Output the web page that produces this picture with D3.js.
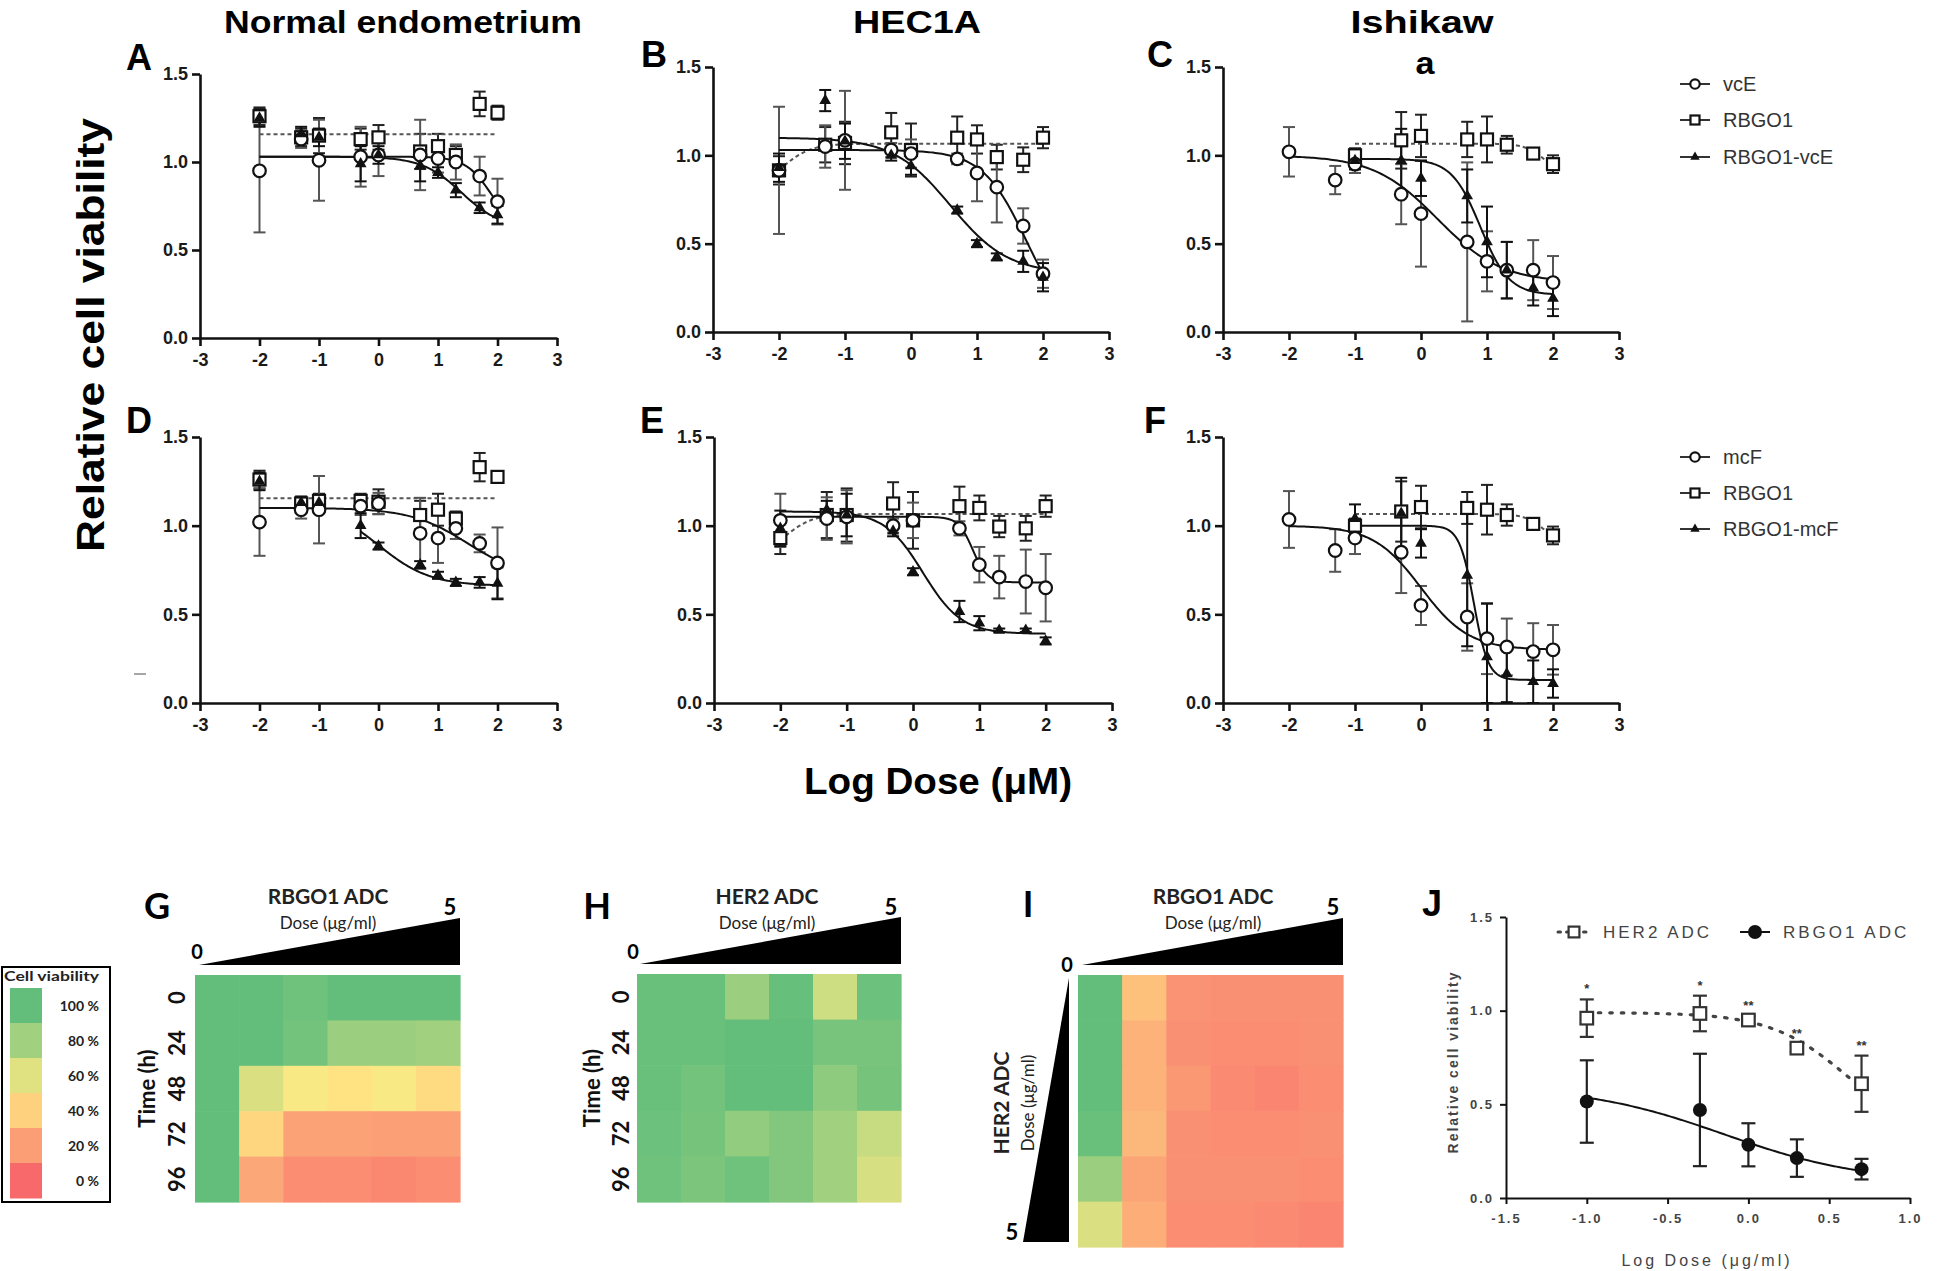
<!DOCTYPE html>
<html><head><meta charset="utf-8">
<script src="https://cdn.jsdelivr.net/npm/d3@7"></script>
<style>
body{margin:0;background:#fff}
svg{display:block}
text{font-family:"Liberation Sans",Arial,sans-serif}
.hm text{font-family:Lato,"Liberation Sans",sans-serif}
</style>
</head><body>
<svg id="c" width="1946" height="1271"></svg>
<script>
// ---------- DATA ----------
const doseLog = [-2, -1.3, -1, -0.3, 0, 0.7, 1, 1.3, 1.7, 2];
const xTicks = [-3, -2, -1, 0, 1, 2, 3];
const yTicks = [0, 0.5, 1, 1.5];
const titles = ["Normal endometrium", "HEC1A", "Ishikaw", "a"];
const legendTop = ["vcE", "RBGO1", "RBGO1-vcE"];
const legendBottom = ["mcF", "RBGO1", "RBGO1-mcF"];

// Panel A (Normal endometrium, vcE)
const aVcE      = [0.95, 1.13, 1.01, 1.03, 1.04, 1.04, 1.02, 1.00, 0.92, 0.775];
const aVcEErr   = [0.35, 0.05, 0.23, 0.17, 0.12, 0.20, 0.08, 0.10, 0.11, 0.13];
const aRb       = [1.26, 1.14, 1.15, 1.13, 1.14, 1.06, 1.09, 1.04, 1.33, 1.28];
const aRbErr    = [0.05, 0.05, 0.10, 0.06, 0.07, 0.10, 0.07, 0.05, 0.07, 0.04];
const aCombo    = [1.25, 1.16, 1.14, 0.99, 1.04, 0.98, 0.94, 0.84, 0.74, 0.70];
const aComboErr = [0.05, 0.04, 0.05, 0.10, 0.05, 0.09, 0.03, 0.04, 0.03, 0.05];
// fit params: [top, bottom, logEC50, hill, xFrom, xTo]
const aFitVcE   = [1.03, 0.60, 1.9, 2.0, -2, 2];
const aFitRb    = [1.158, 1.158, 0, 0, -2, 2];
const aFitCombo = [1.03, 0.62, 1.4, 1.3, -2, 2];

// Panel B (HEC1A, vcE)
const bVcE      = [0.915, 1.05, 1.085, 1.03, 1.01, 0.98, 0.90, 0.82, 0.60, 0.33];
const bVcEErr   = [0.36, 0.12, 0.28, 0.04, 0.08, 0.03, 0.16, 0.20, 0.10, 0.08];
const bRb       = [0.915, 1.06, 1.07, 1.13, 1.03, 1.10, 1.09, 0.99, 0.975, 1.10];
const bRbErr    = [0.08, 0.10, 0.12, 0.11, 0.15, 0.12, 0.08, 0.07, 0.07, 0.06];
const bCombo    = [0.93, 1.31, 1.08, 1.00, 0.94, 0.69, 0.50, 0.425, 0.40, 0.31];
const bComboErr = [0.08, 0.06, 0.10, 0.03, 0.05, 0.02, 0.02, 0.02, 0.06, 0.08];
const bFitVcE   = [1.03, 0.0, 1.75, 1.3, -2, 2];
const bFitRb    = [0.80, 1.066, -1.95, 2.0, -2, 2];
const bFitCombo = [1.10, 0.33, 0.6, 1.0, -2, 2];

// Panel C (Ishikawa, vcE)
const cVcE      = [1.02, 0.86, 0.95, 0.78, 0.67, 0.51, 0.40, 0.35, 0.35, 0.28];
const cVcEErr   = [0.14, 0.08, 0.05, 0.17, 0.30, 0.45, 0.17, 0.16, 0.17, 0.15];
const cRb       = [null, null, 1.00, 1.085, 1.11, 1.09, 1.09, 1.06, 1.01, 0.95];
const cRbErr    = [null, null, 0.04, 0.16, 0.12, 0.10, 0.13, 0.05, 0.03, 0.05];
const cCombo    = [null, null, 0.97, 0.97, 0.87, 0.77, 0.51, 0.35, 0.25, 0.19];
const cComboErr = [null, null, 0.05, 0.18, 0.10, 0.15, 0.20, 0.16, 0.10, 0.10];
const cFitVcE   = [1.0, 0.28, 0.25, 0.9, -2, 2];
const cFitRb    = [1.066, 0.90, 1.85, 3.0, -1, 2];
const cFitCombo = [0.98, 0.21, 0.9, 2.0, -1, 2];

// Panel D (Normal endometrium, mcF)
const dMcF      = [1.02, 1.09, 1.09, 1.11, 1.125, 0.957, 0.93, 0.985, 0.90, 0.79];
const dMcFErr   = [0.19, 0.05, 0.19, 0.05, 0.06, 0.20, 0.14, 0.06, 0.05, 0.20];
const dRb       = [1.26, 1.125, 1.14, 1.14, 1.135, 1.06, 1.09, 1.04, 1.33, 1.275];
const dRbErr    = [0.05, 0.04, 0.04, 0.04, 0.07, 0.08, 0.09, 0.04, 0.08, 0.03];
const dCombo    = [1.25, 1.13, 1.13, 1.00, 0.885, 0.78, 0.72, 0.68, 0.68, 0.675];
const dComboErr = [0.05, 0.03, 0.03, 0.07, 0.02, 0.02, 0.02, 0.02, 0.03, 0.09];
const dFitMcF   = [1.10, 0.70, 1.5, 0.9, -2, 2];
const dFitRb    = [1.154, 1.154, 0, 0, -2, 2];
const dFitCombo = [1.12, 0.66, 0.0, 1.0, -0.3, 2];

// Panel E (HEC1A, mcF)
const eMcF      = [1.03, 1.04, 1.05, 1.00, 1.03, 0.985, 0.78, 0.71, 0.685, 0.65];
const eMcFErr   = [0.15, 0.12, 0.15, 0.04, 0.10, 0.04, 0.10, 0.12, 0.18, 0.19];
const eRb       = [0.93, 1.06, 1.06, 1.125, 1.03, 1.11, 1.10, 0.995, 0.985, 1.11];
const eRbErr    = [0.09, 0.13, 0.15, 0.12, 0.16, 0.11, 0.07, 0.06, 0.07, 0.06];
const eCombo    = [0.985, 1.09, 1.06, 0.97, 0.74, 0.516, 0.45, 0.41, 0.41, 0.35];
const eComboErr = [0.10, 0.05, 0.12, 0.03, 0.02, 0.06, 0.04, 0.01, 0.01, 0.02];
const eFitMcF   = [1.05, 0.68, 0.9, 4.0, -2, 2];
const eFitRb    = [0.80, 1.066, -1.95, 2.0, -2, 2];
const eFitCombo = [1.08, 0.39, 0.15, 1.5, -2, 2];

// Panel F (Ishikawa, mcF)
const fMcF      = [1.035, 0.86, 0.93, 0.85, 0.55, 0.485, 0.363, 0.316, 0.29, 0.30];
const fMcFErr   = [0.16, 0.12, 0.09, 0.23, 0.11, 0.19, 0.20, 0.16, 0.16, 0.14];
const fRb       = [null, null, 1.00, 1.08, 1.105, 1.10, 1.09, 1.06, 1.01, 0.945];
const fRbErr    = [null, null, 0.04, 0.17, 0.12, 0.09, 0.14, 0.06, 0.03, 0.05];
const fCombo    = [null, null, 1.04, 1.07, 0.90, 0.72, 0.26, 0.165, 0.12, 0.11];
const fComboErr = [null, null, 0.08, 0.20, 0.08, 0.40, 0.30, 0.16, 0.12, 0.08];
const fFitMcF   = [1.0, 0.30, 0.0, 1.2, -2, 2];
const fFitRb    = [1.066, 0.90, 1.85, 3.0, -1, 2];
const fFitCombo = [1.0, 0.13, 0.8, 4.0, -1, 2];

// Heatmaps (cell viability, %)
const timeLabels = ["0", "24", "48", "72", "96"];
const gViab = [
  [100, 100, 96, 100, 100, 100],
  [100, 100, 95, 82, 82, 80],
  [100, 62, 52, 47, 52, 44],
  [100, 42, 22, 22, 21, 21],
  [100, 24, 14, 14, 12, 14]
];
const hViab = [
  [98, 98, 82, 99, 66, 97],
  [98, 98, 100, 100, 93, 93],
  [98, 95, 100, 100, 86, 94],
  [97, 94, 85, 90, 80, 68],
  [96, 92, 96, 90, 80, 63]
];
const iViab = [
  [100, 34, 16, 15, 15, 15],
  [100, 28, 15, 14, 14, 15],
  [100, 28, 18, 13, 11, 14],
  [98, 30, 15, 14, 14, 15],
  [82, 23, 15, 15, 15, 14],
  [62, 26, 14, 14, 13, 11]
];
const legendPct = [100, 80, 60, 40, 20, 0];

// Panel J
const jDoseLog   = [-1, -0.3, 0, 0.3, 0.7];
const jHer2      = [0.96, 0.985, 0.95, 0.80, 0.61];
const jHer2Err   = [0.10, 0.095, 0.02, 0.02, 0.15];
const jRbgo      = [0.515, 0.47, 0.284, 0.213, 0.154];
const jRbgoErr   = [0.22, 0.30, 0.115, 0.10, 0.055];
const jStars     = ["*", "*", "**", "**", "**"];
const jFitHer2   = [0.99, 0.30, 0.62, 1.8, -1, 0.7];
const jFitRbgo   = [0.60, 0.08, -0.15, 1.0, -1, 0.7];
const jXTicks    = [-1.5, -1, -0.5, 0, 0.5, 1];
const jYTicks    = [0, 0.5, 1, 1.5];
const jLegend    = ["HER2 ADC", "RBGO1 ADC"];

// ---------- DRAWING ----------
const svg = d3.select("#c");
svg.append("rect").attr("width", 1946).attr("height", 1271).attr("fill", "#fff");

const fitFn = p => x => p[1] + (p[0] - p[1]) / (1 + Math.pow(10, (x - p[2]) * p[3]));
const fitXs = p => d3.range(0, 121).map(i => p[4] + (p[5] - p[4]) * i / 120);

function marker(g, kind, cx, cy, s) {
  s = s || 1;
  if (kind === "circle") {
    g.append("circle").attr("cx", cx).attr("cy", cy).attr("r", 6.3 * s)
      .attr("fill", "#fff").attr("stroke", "#111").attr("stroke-width", 2.2);
  } else if (kind === "square") {
    const w = 12 * s;
    g.append("rect").attr("x", cx - w / 2).attr("y", cy - w / 2).attr("width", w).attr("height", w)
      .attr("fill", "#fff").attr("stroke", "#111").attr("stroke-width", 2.2);
  } else if (kind === "tri") {
    g.append("path").attr("transform", `translate(${cx},${cy})`)
      .attr("d", d3.symbol(d3.symbolTriangle, 60 * s * s)()).attr("fill", "#111");
  } else if (kind === "dot") {
    g.append("circle").attr("cx", cx).attr("cy", cy).attr("r", 7 * s).attr("fill", "#111");
  } else if (kind === "gsquare") {
    const w = 12 * s;
    g.append("rect").attr("x", cx - w / 2).attr("y", cy - w / 2).attr("width", w).attr("height", w)
      .attr("fill", "#fff").attr("stroke", "#333").attr("stroke-width", 2.2);
  }
}

function styleAxis(ax, fs, weight, color, sw) {
  ax.select(".domain").attr("stroke", "#111").attr("stroke-width", sw);
  ax.selectAll(".tick line").attr("stroke", "#111").attr("stroke-width", sw);
  ax.selectAll(".tick text").attr("font-size", fs).attr("font-weight", weight).attr("fill", color)
    .attr("font-family", "'Liberation Sans',Arial,sans-serif");
}

const errColor = { circle: "#555", square: "#222", tri: "#111" };
const curveStyle = {
  circle: { stroke: "#111", dash: null },
  square: { stroke: "#555", dash: "4,3" },
  tri: { stroke: "#111", dash: null }
};

const panels = [
  { id: "A", px: [200, 557], py: [338, 74], lab: [139, 57], series: [
    { v: aRb, e: aRbErr, fit: aFitRb, kind: "square" },
    { v: aVcE, e: aVcEErr, fit: aFitVcE, kind: "circle" },
    { v: aCombo, e: aComboErr, fit: aFitCombo, kind: "tri" }] },
  { id: "B", px: [713, 1109], py: [332, 67], lab: [654, 54], series: [
    { v: bRb, e: bRbErr, fit: bFitRb, kind: "square" },
    { v: bVcE, e: bVcEErr, fit: bFitVcE, kind: "circle" },
    { v: bCombo, e: bComboErr, fit: bFitCombo, kind: "tri" }] },
  { id: "C", px: [1223, 1619], py: [332, 67], lab: [1160, 54], series: [
    { v: cRb, e: cRbErr, fit: cFitRb, kind: "square" },
    { v: cVcE, e: cVcEErr, fit: cFitVcE, kind: "circle" },
    { v: cCombo, e: cComboErr, fit: cFitCombo, kind: "tri" }] },
  { id: "D", px: [200, 557], py: [703, 437], lab: [139, 420], series: [
    { v: dRb, e: dRbErr, fit: dFitRb, kind: "square" },
    { v: dMcF, e: dMcFErr, fit: dFitMcF, kind: "circle" },
    { v: dCombo, e: dComboErr, fit: dFitCombo, kind: "tri" }] },
  { id: "E", px: [714, 1112], py: [703, 437], lab: [652, 420], series: [
    { v: eRb, e: eRbErr, fit: eFitRb, kind: "square" },
    { v: eMcF, e: eMcFErr, fit: eFitMcF, kind: "circle" },
    { v: eCombo, e: eComboErr, fit: eFitCombo, kind: "tri" }] },
  { id: "F", px: [1223, 1619], py: [703, 437], lab: [1155, 420], series: [
    { v: fRb, e: fRbErr, fit: fFitRb, kind: "square" },
    { v: fMcF, e: fMcFErr, fit: fFitMcF, kind: "circle" },
    { v: fCombo, e: fComboErr, fit: fFitCombo, kind: "tri" }] }
];

panels.forEach(p => {
  const x = d3.scaleLinear().domain([-3, 3]).range(p.px);
  const y = d3.scaleLinear().domain([0, 1.5]).range(p.py);
  const g = svg.append("g");
  const ax = g.append("g").attr("transform", `translate(0,${p.py[0]})`)
    .call(d3.axisBottom(x).tickValues(xTicks).tickFormat(d => String(d)).tickSize(8).tickSizeOuter(0).tickPadding(7));
  styleAxis(ax, 18, "bold", "#1a1a1a", 2.6);
  const ay = g.append("g").attr("transform", `translate(${p.px[0]},0)`)
    .call(d3.axisLeft(y).tickValues(yTicks).tickFormat(d3.format(".1f")).tickSize(8).tickSizeOuter(0).tickPadding(4));
  styleAxis(ay, 18, "bold", "#1a1a1a", 2.6);

  // error bars
  p.series.forEach(s => {
    s.v.forEach((v, i) => {
      if (v == null) return;
      const cx = x(doseLog[i]), e = s.e[i];
      const y1 = y(v + e), y2 = y(Math.max(0, v - e));
      const c = errColor[s.kind];
      g.append("line").attr("x1", cx).attr("x2", cx).attr("y1", y1).attr("y2", y2).attr("stroke", c).attr("stroke-width", 2);
      [y1, y2].forEach(yy => g.append("line").attr("x1", cx - 6).attr("x2", cx + 6).attr("y1", yy).attr("y2", yy).attr("stroke", c).attr("stroke-width", 2));
    });
  });
  // fitted curves
  p.series.forEach(s => {
    const f = fitFn(s.fit);
    const st = curveStyle[s.kind];
    g.append("path").attr("d", d3.line().x(d => x(d)).y(d => y(f(d)))(fitXs(s.fit)))
      .attr("fill", "none").attr("stroke", st.stroke).attr("stroke-width", 2)
      .attr("stroke-dasharray", st.dash);
  });
  // markers
  p.series.forEach(s => {
    s.v.forEach((v, i) => { if (v != null) marker(g, s.kind, x(doseLog[i]), y(v)); });
  });
  g.append("text").attr("x", p.lab[0]).attr("y", p.lab[1] + 13).attr("text-anchor", "middle")
    .attr("font-size", 36).attr("font-weight", "bold").text(p.id);
});

// small stray dash in D margin
svg.append("line").attr("x1", 134).attr("x2", 146).attr("y1", 674).attr("y2", 674).attr("stroke", "#888").attr("stroke-width", 1.5);

// column titles
const tt = [
  { t: titles[0], x: 403, y: 33, w: 358 },
  { t: titles[1], x: 917, y: 33, w: 128 },
  { t: titles[2], x: 1422, y: 33, w: 143 },
  { t: titles[3], x: 1425, y: 74, w: 19 }
];
tt.forEach(d => svg.append("text").attr("x", d.x).attr("y", d.y).attr("text-anchor", "middle")
  .attr("font-size", 31).attr("font-weight", "bold").attr("textLength", d.w).attr("lengthAdjust", "spacingAndGlyphs").text(d.t));

// shared axis titles
svg.append("text").attr("transform", "translate(104,335) rotate(-90)").attr("text-anchor", "middle")
  .attr("font-size", 39).attr("font-weight", "bold").attr("textLength", 434).attr("lengthAdjust", "spacingAndGlyphs")
  .text("Relative cell viability");
svg.append("text").attr("x", 938).attr("y", 794).attr("text-anchor", "middle")
  .attr("font-size", 36).attr("font-weight", "bold").attr("textLength", 268).attr("lengthAdjust", "spacingAndGlyphs")
  .text("Log Dose (μM)");

// legends for rows
const legKinds = ["circle", "square", "tri"];
function rowLegend(labels, ys) {
  labels.forEach((t, i) => {
    const g = svg.append("g");
    g.append("line").attr("x1", 1680).attr("x2", 1710).attr("y1", ys[i]).attr("y2", ys[i]).attr("stroke", "#333").attr("stroke-width", 2);
    if (legKinds[i] === "tri") marker(g, "tri", 1695, ys[i], 0.8);
    else marker(g, legKinds[i], 1695, ys[i], 0.75);
    g.append("text").attr("x", 1723).attr("y", ys[i] + 7).attr("font-size", 20).attr("fill", "#333").text(t);
  });
}
rowLegend(legendTop, [84, 120, 157]);
rowLegend(legendBottom, [457, 493, 529]);

// ---------- HEATMAPS ----------
const color = d3.scaleLinear().domain([0, 50, 100]).range(["#F8696B", "#FFEB84", "#63BE7B"]);
const hm = svg.append("g").attr("class", "hm");

function heatmap(vals, x0, x1, y0, y1) {
  const xb = d3.scaleBand().domain(d3.range(vals[0].length)).range([x0, x1]);
  const yb = d3.scaleBand().domain(d3.range(vals.length)).range([y0, y1]);
  vals.forEach((row, r) => row.forEach((v, c) => hm.append("rect")
    .attr("x", xb(c)).attr("y", yb(r)).attr("width", xb.bandwidth() + 0.6).attr("height", yb.bandwidth() + 0.6)
    .attr("fill", color(v))));
  return { xb, yb };
}
function topWedge(x0, x1, gridTop, title, cx) {
  hm.append("path").attr("d", `M${x0},${gridTop - 10}L${x1},${gridTop - 10}L${x1},${gridTop - 57}Z`).attr("fill", "#000");
  hm.append("text").attr("x", cx).attr("y", 904).attr("text-anchor", "middle").attr("font-size", 21).attr("font-weight", "bold").attr("fill", "#222").text(title);
  hm.append("text").attr("x", cx).attr("y", 929).attr("text-anchor", "middle").attr("font-size", 17).attr("fill", "#222").text("Dose (μg/ml)");
  hm.append("text").attr("x", x1 - 10).attr("y", 915).attr("text-anchor", "middle").attr("font-size", 22).attr("font-weight", "bold").text("5");
}
function timeAxis(yb, rowX, titleX) {
  timeLabels.forEach((t, i) => hm.append("text")
    .attr("transform", `translate(${rowX},${yb(i) + yb.bandwidth() / 2}) rotate(-90)`)
    .attr("text-anchor", "middle").attr("font-size", 22).attr("font-weight", "bold").attr("fill", "#111").text(t));
  const mid = (yb.range()[0] + yb.range()[1]) / 2;
  hm.append("text").attr("transform", `translate(${titleX},${mid}) rotate(-90)`)
    .attr("text-anchor", "middle").attr("font-size", 22).attr("font-weight", "bold").attr("fill", "#111").text("Time (h)");
}

// G
const G = heatmap(gViab, 195, 460, 975, 1202);
topWedge(199, 460, 975, "RBGO1 ADC", 328);
hm.append("text").attr("x", 197).attr("y", 959).attr("text-anchor", "middle").attr("font-size", 20).attr("font-weight", "bold").text("0");
timeAxis(G.yb, 185, 155);
hm.append("text").attr("x", 157).attr("y", 919).attr("text-anchor", "middle").attr("font-size", 36).attr("font-weight", "bold").attr("font-family", "'Liberation Sans',Arial").text("G");

// H
const H = heatmap(hViab, 637, 901, 974, 1202);
topWedge(640, 901, 974, "HER2 ADC", 767);
hm.append("text").attr("x", 633).attr("y", 959).attr("text-anchor", "middle").attr("font-size", 20).attr("font-weight", "bold").text("0");
timeAxis(H.yb, 629, 600);
hm.append("text").attr("x", 597).attr("y", 919).attr("text-anchor", "middle").attr("font-size", 36).attr("font-weight", "bold").attr("font-family", "'Liberation Sans',Arial").text("H");

// I
const I = heatmap(iViab, 1078, 1343, 975, 1247);
topWedge(1082, 1343, 975, "RBGO1 ADC", 1213);
hm.append("path").attr("d", `M1069,978L1069,1242L1023,1242Z`).attr("fill", "#000");
hm.append("text").attr("x", 1067).attr("y", 972).attr("text-anchor", "middle").attr("font-size", 20).attr("font-weight", "bold").text("0");
hm.append("text").attr("x", 1012).attr("y", 1240).attr("text-anchor", "middle").attr("font-size", 22).attr("font-weight", "bold").text("5");
hm.append("text").attr("transform", "translate(1009,1103) rotate(-90)").attr("text-anchor", "middle").attr("font-size", 21).attr("font-weight", "bold").attr("fill", "#222").text("HER2 ADC");
hm.append("text").attr("transform", "translate(1034,1103) rotate(-90)").attr("text-anchor", "middle").attr("font-size", 17).attr("fill", "#222").text("Dose (μg/ml)");
hm.append("text").attr("x", 1028).attr("y", 917).attr("text-anchor", "middle").attr("font-size", 36).attr("font-weight", "bold").attr("font-family", "'Liberation Sans',Arial").text("I");

// colour legend
hm.append("rect").attr("x", 2).attr("y", 967).attr("width", 108).attr("height", 235).attr("fill", "#fff").attr("stroke", "#000").attr("stroke-width", 2);
hm.append("text").attr("x", 4).attr("y", 981).attr("font-size", 14).attr("font-weight", "bold").attr("textLength", 95).attr("lengthAdjust", "spacingAndGlyphs").attr("fill", "#222").text("Cell viability");
const legY = d3.scaleBand().domain(legendPct).range([988, 1198]);
legendPct.forEach(v => {
  hm.append("rect").attr("x", 10).attr("y", legY(v)).attr("width", 32).attr("height", legY.bandwidth() + 0.5).attr("fill", color(v));
  hm.append("text").attr("x", 99).attr("y", legY(v) + legY.bandwidth() / 2 + 5).attr("text-anchor", "end")
    .attr("font-size", 14).attr("font-weight", "bold").attr("fill", "#222").text(v + " %");
});

// ---------- PANEL J ----------
const jx = d3.scaleLinear().domain([-1.5, 1]).range([1506, 1910]);
const jy = d3.scaleLinear().domain([0, 1.5]).range([1198, 917]);
const jg = svg.append("g");
const jax = jg.append("g").attr("transform", "translate(0,1198)")
  .call(d3.axisBottom(jx).tickValues(jXTicks).tickFormat(d => d3.format(".1f")(d).replace("−", "-")).tickSize(6).tickSizeOuter(0).tickPadding(10));
styleAxis(jax, 13, "bold", "#444", 2);
jax.selectAll(".tick text").attr("letter-spacing", 2);
const jay = jg.append("g").attr("transform", "translate(1506,0)")
  .call(d3.axisLeft(jy).tickValues(jYTicks).tickFormat(d3.format(".1f")).tickSize(6).tickSizeOuter(0).tickPadding(6));
styleAxis(jay, 13, "bold", "#444", 2);
jay.selectAll(".tick text").attr("letter-spacing", 2);

function jErr(vals, errs, c) {
  vals.forEach((v, i) => {
    const cx = jx(jDoseLog[i]), y1 = jy(v + errs[i]), y2 = jy(v - errs[i]);
    jg.append("line").attr("x1", cx).attr("x2", cx).attr("y1", y1).attr("y2", y2).attr("stroke", c).attr("stroke-width", 2.2);
    [y1, y2].forEach(yy => jg.append("line").attr("x1", cx - 7).attr("x2", cx + 7).attr("y1", yy).attr("y2", yy).attr("stroke", c).attr("stroke-width", 2.2));
  });
}
jErr(jHer2, jHer2Err, "#333");
jErr(jRbgo, jRbgoErr, "#222");
[[jFitHer2, "#444", "2.5,9", 3.2], [jFitRbgo, "#111", null, 2]].forEach(([p, c, dash, w]) => {
  const f = fitFn(p);
  jg.append("path").attr("d", d3.line().x(d => jx(d)).y(d => jy(f(d)))(fitXs(p)))
    .attr("fill", "none").attr("stroke", c).attr("stroke-width", w).attr("stroke-dasharray", dash).attr("stroke-linecap", "round");
});
jHer2.forEach((v, i) => marker(jg, "gsquare", jx(jDoseLog[i]), jy(v), 1.05));
jRbgo.forEach((v, i) => marker(jg, "dot", jx(jDoseLog[i]), jy(v), 1));
jStars.forEach((s, i) => jg.append("text").attr("x", jx(jDoseLog[i])).attr("y", jy(jHer2[i] + jHer2Err[i]) - 6)
  .attr("text-anchor", "middle").attr("font-size", 13).attr("font-weight", "bold").attr("fill", "#333").text(s));

// J legend
jg.append("line").attr("x1", 1558).attr("x2", 1592).attr("y1", 932).attr("y2", 932).attr("stroke", "#444").attr("stroke-width", 3).attr("stroke-dasharray", "2.5,6").attr("stroke-linecap", "round");
marker(jg, "gsquare", 1574, 932, 0.9);
jg.append("text").attr("x", 1603).attr("y", 938).attr("font-size", 17).attr("letter-spacing", 3).attr("fill", "#444").text(jLegend[0]);
jg.append("line").attr("x1", 1740).attr("x2", 1770).attr("y1", 932).attr("y2", 932).attr("stroke", "#111").attr("stroke-width", 2);
marker(jg, "dot", 1755, 932, 1);
jg.append("text").attr("x", 1783).attr("y", 938).attr("font-size", 17).attr("letter-spacing", 3).attr("fill", "#444").text(jLegend[1]);

jg.append("text").attr("transform", "translate(1458,1062) rotate(-90)").attr("text-anchor", "middle")
  .attr("font-size", 14).attr("font-weight", "bold").attr("letter-spacing", 2).attr("fill", "#444").text("Relative cell viability");
jg.append("text").attr("x", 1707).attr("y", 1266).attr("text-anchor", "middle")
  .attr("font-size", 16).attr("letter-spacing", 3).attr("fill", "#444").text("Log Dose (μg/ml)");
jg.append("text").attr("x", 1432).attr("y", 916).attr("text-anchor", "middle").attr("font-size", 36).attr("font-weight", "bold").text("J");
</script>
</body></html>
